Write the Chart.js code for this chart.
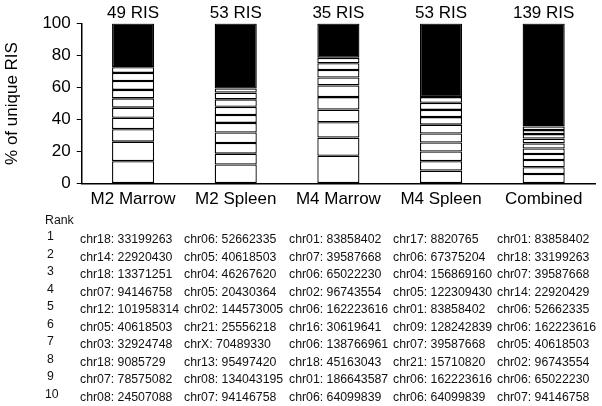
<!DOCTYPE html>
<html lang="en">
<head>
    <meta charset="UTF-8">
    <title>Unique RIS by sample</title>
    <script src="https://cdn.jsdelivr.net/npm/chart.js@4.4.1/dist/chart.umd.min.js"></script>
    <style>
        html, body { margin: 0; padding: 0; background: #fff; }
        body { width: 602px; height: 406px; position: relative; overflow: hidden;
               font-family: "Liberation Sans", Arial, sans-serif; color: #111; }
        #chartBox { position: absolute; left: 0; top: 0; width: 602px; height: 208px; }
        #rankTable { position: absolute; left: 0; top: 0; width: 602px; height: 406px; }
        #rankTable div { position: absolute; white-space: nowrap; font-size: 12.3px; line-height: 14px; }
    </style>
</head>
<body>
    <div id="chartBox"><canvas id="risChart"></canvas></div>
    <div id="rankTable"></div>

    <script>
        const samples = ['M2 Marrow', 'M2 Spleen', 'M4 Marrow', 'M4 Spleen', 'Combined'];
        const risCounts = ['49 RIS', '53 RIS', '35 RIS', '53 RIS', '139 RIS'];

        // % of reads for ranks 1..10 per sample (bottom to top)
        const rank1  = [14.0, 11.9, 17.4, 8.1, 6.0];
        const rank2  = [12.2, 6.8, 11.3, 5.9, 4.2];
        const rank3  = [7.8, 6.6, 9.6, 6.0, 4.5];
        const rank4  = [7.1, 6.6, 7.9, 5.7, 3.8];
        const rank5  = [6.3, 6.0, 7.8, 5.6, 3.4];
        const rank6  = [5.8, 4.9, 7.3, 5.5, 3.2];
        const rank7  = [5.3, 5.1, 4.9, 4.7, 3.0];
        const rank8  = [5.5, 4.7, 4.7, 4.5, 2.8];
        const rank9  = [5.1, 4.2, 4.2, 4.4, 2.5];
        const rank10 = [3.5, 2.6, 3.4, 3.6, 2.3];
        const others = [27.4, 40.6, 21.5, 46.0, 64.3];

        const m2MarrowTop = ['chr18: 33199263', 'chr14: 22920430', 'chr18: 13371251', 'chr07: 94146758', 'chr12: 101958314',
                             'chr05: 40618503', 'chr03: 32924748', 'chr18: 9085729', 'chr07: 78575082', 'chr08: 24507088'];
        const m2SpleenTop = ['chr06: 52662335', 'chr05: 40618503', 'chr04: 46267620', 'chr05: 20430364', 'chr02: 144573005',
                             'chr21: 25556218', 'chrX: 70489330', 'chr13: 95497420', 'chr08: 134043195', 'chr07: 94146758'];
        const m4MarrowTop = ['chr01: 83858402', 'chr07: 39587668', 'chr06: 65022230', 'chr02: 96743554', 'chr06: 162223616',
                             'chr16: 30619641', 'chr06: 138766961', 'chr18: 45163043', 'chr01: 186643587', 'chr06: 64099839'];
        const m4SpleenTop = ['chr17: 8820765', 'chr06: 67375204', 'chr04: 156869160', 'chr05: 122309430', 'chr01: 83858402',
                             'chr09: 128242839', 'chr07: 39587668', 'chr21: 15710820', 'chr06: 162223616', 'chr06: 64099839'];
        const combinedTop = ['chr01: 83858402', 'chr18: 33199263', 'chr07: 39587668', 'chr14: 22920429', 'chr06: 52662335',
                             'chr06: 162223616', 'chr05: 40618503', 'chr02: 96743554', 'chr06: 65022230', 'chr07: 94146758'];

        const fontFamily = '"Liberation Sans", Arial, sans-serif';

        function buildTable() {
            const box = document.getElementById('rankTable');
            const cols = [m2MarrowTop, m2SpleenTop, m4MarrowTop, m4SpleenTop, combinedTop];
            const colX = [80, 184, 289, 393, 497];
            const rowY0 = 232, rowStep = 17.5;

            const head = document.createElement('div');
            head.textContent = 'Rank';
            head.style.left = '45px';
            head.style.top = '213px';
            box.appendChild(head);

            for (let r = 0; r < 10; r++) {
                const num = document.createElement('div');
                num.textContent = String(r + 1);
                num.style.left = (r === 9 ? 45 : 47) + 'px';
                num.style.top = (rowY0 + r * rowStep - 3) + 'px';
                box.appendChild(num);
                cols.forEach((col, c) => {
                    const cell = document.createElement('div');
                    cell.textContent = col[r];
                    cell.style.left = colX[c] + 'px';
                    cell.style.top = (rowY0 + r * rowStep) + 'px';
                    box.appendChild(cell);
                });
            }
        }

        function initChart() {
            const ranks = [rank1, rank2, rank3, rank4, rank5, rank6, rank7, rank8, rank9, rank10];
            const datasets = ranks.map((vals, i) => ({
                label: 'Rank ' + (i + 1),
                data: vals,
                backgroundColor: '#fff',
                borderColor: '#000',
                borderWidth: 1.3,
                borderSkipped: false
            }));
            datasets.push({
                label: 'Other RIS',
                data: others,
                backgroundColor: '#000',
                borderColor: '#000',
                borderWidth: 1.3,
                borderSkipped: false
            });

            new Chart(document.getElementById('risChart'), {
                type: 'bar',
                data: { labels: samples, datasets: datasets },
                options: {
                    responsive: true,
                    maintainAspectRatio: false,
                    animation: false,
                    datasets: { bar: { barPercentage: 0.41, categoryPercentage: 1 } },
                    layout: { padding: { top: 3, right: 7, bottom: 0, left: 2 } },
                    plugins: { legend: { display: false }, tooltip: { enabled: false } },
                    scales: {
                        x: {
                            stacked: true,
                            grid: { display: false },
                            border: { display: true, color: '#000', width: 1.5 },
                            ticks: { color: '#000', padding: -2, font: { family: fontFamily, size: 17 } }
                        },
                        x2: {
                            type: 'category',
                            position: 'top',
                            labels: risCounts,
                            offset: true,
                            grid: { display: false, drawTicks: false },
                            border: { display: false },
                            ticks: { color: '#000', padding: 0, font: { family: fontFamily, size: 17 } }
                        },
                        y: {
                            stacked: true,
                            min: 0,
                            max: 100,
                            ticks: { stepSize: 20, color: '#000', padding: 6, font: { family: fontFamily, size: 17 } },
                            grid: { display: true, drawOnChartArea: false, drawTicks: true, tickLength: 5, color: '#000' },
                            border: { display: true, color: '#000', width: 1.5 },
                            title: {
                                display: true,
                                text: '% of unique RIS',
                                color: '#000',
                                padding: { top: 0, bottom: 14 },
                                font: { family: fontFamily, size: 17 }
                            }
                        }
                    }
                }
            });
        }

        function checkChartAndInit() {
            if (typeof Chart === 'undefined') {
                setTimeout(checkChartAndInit, 100);
                return;
            }
            buildTable();
            initChart();
        }

        document.addEventListener('DOMContentLoaded', checkChartAndInit);
    </script>
</body>
</html>
